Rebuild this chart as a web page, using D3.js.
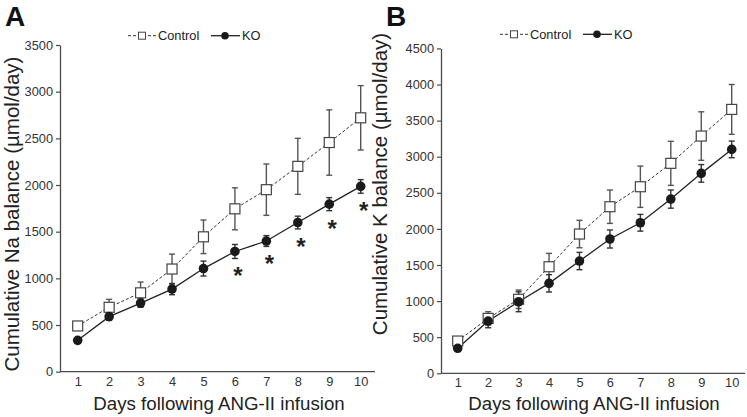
<!DOCTYPE html>
<html>
<head>
<meta charset="utf-8">
<script src="https://cdn.jsdelivr.net/npm/d3@7/dist/d3.min.js"></script>
<style>
  html, body { margin: 0; padding: 0; background: #fff; }
  svg { display: block; }
  text { font-family: "Liberation Sans", Arial, Helvetica, sans-serif; }
</style>
</head>
<body>
<svg id="chart" width="747" height="417"></svg>
<script>
// ---------- DATA ----------
const days = [1, 2, 3, 4, 5, 6, 7, 8, 9, 10];
const seriesNames = ["Control", "KO"];

// Panel A: Cumulative Na balance (µmol/day)
const naControl    = [490, 690, 845, 1100, 1445, 1745, 1950, 2200, 2455, 2720];
const naControlErr = [30, 85, 115, 160, 180, 225, 275, 300, 350, 345];
const naKO         = [336, 590, 735, 885, 1105, 1288, 1400, 1598, 1795, 1985];
const naKOErr      = [20, 40, 45, 60, 80, 75, 58, 68, 70, 73];
const naSignificantDays = [6, 7, 8, 9, 10];
const naTicks = [0, 500, 1000, 1500, 2000, 2500, 3000, 3500];

// Panel B: Cumulative K balance (µmol/day)
const kControl    = [447, 761, 1025, 1476, 1929, 2307, 2584, 2908, 3286, 3655];
const kControlErr = [40, 92, 128, 185, 190, 231, 286, 305, 336, 345];
const kKO         = [346, 724, 991, 1246, 1555, 1860, 2085, 2413, 2769, 3101];
const kKOErr      = [30, 93, 138, 120, 120, 125, 116, 126, 122, 115];
const kSignificantDays = [];
const kTicks = [0, 500, 1000, 1500, 2000, 2500, 3000, 3500, 4000, 4500];

const xLabel = "Days following ANG-II infusion";

// ---------- DRAW ----------
const svg = d3.select("#chart");
const axisColor = "#4a4a4a";
const textColor = "#333";

function drawPanel(p) {
  const g = svg.append("g");
  const x = d3.scaleLinear().domain([1, 10]).range([p.x1, p.x10]);
  const y = d3.scaleLinear().domain([0, p.yMax]).range([p.y0, p.yTop]);

  // panel letter
  g.append("text").attr("x", p.letterX).attr("y", 26)
    .attr("font-size", 28).attr("font-weight", "bold").attr("fill", "#111")
    .text(p.letter);

  // y axis
  const ya = g.append("g").attr("transform", `translate(${p.axisX},0)`)
    .call(d3.axisLeft(y).tickValues(p.ticks).tickFormat(d3.format("d"))
      .tickSize(4).tickPadding(3).tickSizeOuter(0));
  ya.select(".domain").attr("stroke", axisColor).attr("stroke-width", 1.3);
  ya.selectAll(".tick line").attr("stroke", axisColor).attr("stroke-width", 1.2);
  ya.selectAll(".tick text").attr("font-size", 12.8).attr("fill", textColor)
    .attr("font-family", "Liberation Sans, Arial, sans-serif");

  // x axis
  const xa = g.append("g").attr("transform", `translate(0,${p.y0})`)
    .call(d3.axisBottom(x).tickValues(days).tickFormat(d3.format("d"))
      .tickSize(0).tickPadding(5).tickSizeOuter(0));
  xa.select(".domain").remove();
  xa.selectAll(".tick text").attr("font-size", 12.8).attr("fill", textColor)
    .attr("font-family", "Liberation Sans, Arial, sans-serif");
  g.append("line").attr("x1", p.axisX).attr("x2", p.axisEnd)
    .attr("y1", p.y0).attr("y2", p.y0)
    .attr("stroke", axisColor).attr("stroke-width", 1.3);

  // axis titles
  g.append("text").attr("x", p.xLabelX).attr("y", 410).attr("text-anchor", "middle")
    .attr("font-size", 18.7).attr("fill", "#222").text(xLabel);
  g.append("text")
    .attr("transform", `translate(${p.yLabelX},${p.yLabelY}) rotate(-90)`)
    .attr("text-anchor", "middle").attr("font-size", 20.5).attr("fill", "#222")
    .text(p.yTitle);

  const ctrl = days.map((d, i) => ({ d, v: p.control[i], e: p.controlErr[i] }));
  const ko = days.map((d, i) => ({ d, v: p.ko[i], e: p.koErr[i] }));

  // error bars
  function errBars(data, color) {
    const eg = g.append("g").attr("stroke", color).attr("stroke-width", 1.4).attr("fill", "none");
    data.forEach(o => {
      eg.append("line").attr("x1", x(o.d)).attr("x2", x(o.d))
        .attr("y1", y(o.v - o.e)).attr("y2", y(o.v + o.e));
      [o.v - o.e, o.v + o.e].forEach(val => {
        eg.append("line").attr("x1", x(o.d) - 3).attr("x2", x(o.d) + 3)
          .attr("y1", y(val)).attr("y2", y(val));
      });
    });
  }
  errBars(ctrl, "#555");
  errBars(ko, "#333");

  const line = d3.line().x(o => x(o.d)).y(o => y(o.v));
  g.append("path").datum(ctrl).attr("d", line).attr("fill", "none")
    .attr("stroke", "#333").attr("stroke-width", 1).attr("stroke-dasharray", "3,2");
  g.append("path").datum(ko).attr("d", line).attr("fill", "none")
    .attr("stroke", "#222").attr("stroke-width", 1.3);

  // markers
  g.selectAll(null).data(ctrl).enter().append("rect")
    .attr("x", o => x(o.d) - 5).attr("y", o => y(o.v) - 5)
    .attr("width", 10).attr("height", 10)
    .attr("fill", "#fff").attr("stroke", "#444").attr("stroke-width", 1.2);
  g.selectAll(null).data(ko).enter().append("circle")
    .attr("cx", o => x(o.d)).attr("cy", o => y(o.v)).attr("r", 4.8)
    .attr("fill", "#1a1a1a");

  // significance asterisks
  ko.filter(o => p.sig.includes(o.d)).forEach(o => {
    g.append("text").attr("x", x(o.d) + 3).attr("y", y(o.v - o.e) + 13 + 13)
      .attr("text-anchor", "middle").attr("font-size", 24).attr("font-weight", "bold")
      .attr("fill", "#222").text("*");
  });

  // legend
  const ly = p.legendY;
  const lg = g.append("g");
  lg.append("line").attr("x1", p.legX).attr("x2", p.legX + 28).attr("y1", ly).attr("y2", ly)
    .attr("stroke", "#333").attr("stroke-width", 1).attr("stroke-dasharray", "3,2");
  lg.append("rect").attr("x", p.legX + 14 - 3.5).attr("y", ly - 3.5).attr("width", 7).attr("height", 7)
    .attr("fill", "#fff").attr("stroke", "#444").attr("stroke-width", 1);
  lg.append("text").attr("x", p.legX + 30).attr("y", ly + 4.6).attr("font-size", 12.8)
    .attr("fill", "#222").text(seriesNames[0]);
  lg.append("line").attr("x1", p.legX + 83).attr("x2", p.legX + 112).attr("y1", ly).attr("y2", ly)
    .attr("stroke", "#222").attr("stroke-width", 1.3);
  lg.append("circle").attr("cx", p.legX + 97).attr("cy", ly).attr("r", 3.8).attr("fill", "#1a1a1a");
  lg.append("text").attr("x", p.legX + 114).attr("y", ly + 4.6).attr("font-size", 12.8)
    .attr("fill", "#222").text(seriesNames[1]);
}

drawPanel({
  letter: "A", letterX: 5,
  control: naControl, controlErr: naControlErr, ko: naKO, koErr: naKOErr, sig: naSignificantDays,
  ticks: naTicks, yMax: 3500,
  x1: 77.7, x10: 360.7, axisX: 60, axisEnd: 375,
  y0: 371.7, yTop: 45,
  xLabelX: 219, yLabelX: 18.5, yLabelY: 214,
  yTitle: "Cumulative Na balance (µmol/day)",
  legX: 128, legendY: 35.7
});

drawPanel({
  letter: "B", letterX: 386,
  control: kControl, controlErr: kControlErr, ko: kKO, koErr: kKOErr, sig: kSignificantDays,
  ticks: kTicks, yMax: 4500,
  x1: 457.7, x10: 731.7, axisX: 441, axisEnd: 745,
  y0: 373.3, yTop: 48.4,
  xLabelX: 594, yLabelX: 386.5, yLabelY: 184,
  yTitle: "Cumulative K balance (µmol/day)",
  legX: 500, legendY: 34.3
});
</script>
</body>
</html>
